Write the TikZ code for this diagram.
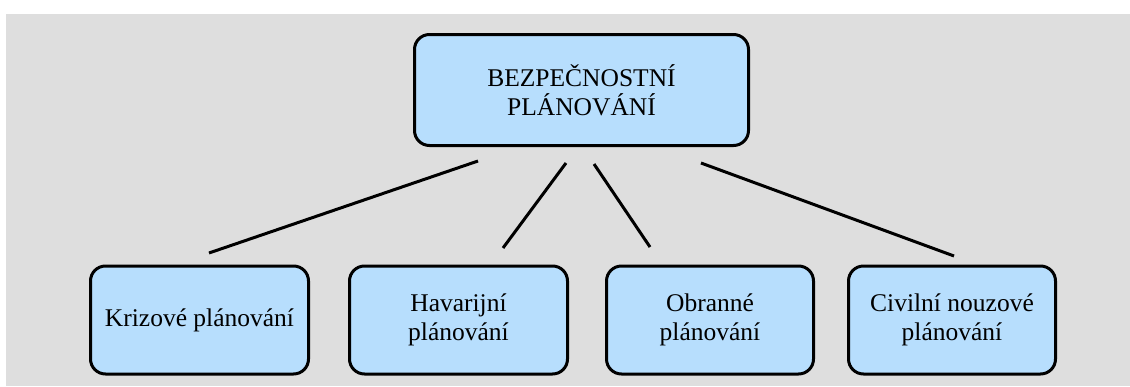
\documentclass[tikz,border=0pt]{standalone}
\usepackage{fontspec}
\setmainfont{Liberation Serif}
\usepackage{tikz}
\usetikzlibrary{positioning}
\definecolor{bgrey}{RGB}{222,222,222}
\definecolor{boxblue}{RGB}{183,222,253}
\tikzstyle{plan}=[rectangle, rounded corners=15pt, draw=black, fill=boxblue, line width=3pt, align=center, font=\fontsize{25.5}{29}\selectfont]
\tikzstyle{link}=[line width=3pt]

\begin{document}
\begin{tikzpicture}[x=1pt, y=-1pt]
          \useasboundingbox (0,0) rectangle (1130,386);
          \fill[bgrey] (6,14) rectangle (1130,386);
          \node[plan, minimum width=334pt, minimum height=111pt] (bp) at (581.5,90) {BEZPEČNOSTNÍ\\PLÁNOVÁNÍ};
          \node[plan, minimum width=218pt, minimum height=108pt] (kp) at (199.5,320) {Krizové plánování};
          \node[plan, minimum width=218pt, minimum height=108pt] (hp) [right=38pt of kp] {Havarijní\\plánování};
          \node[plan, minimum width=207pt, minimum height=108pt] (op) [right=36pt of hp] {Obranné\\plánování};
          \node[plan, minimum width=207pt, minimum height=108pt] (cp) [right=32pt of op] {Civilní nouzové\\plánování};
          % free ends of the links
          \coordinate (bp1) at (478,161);
          \coordinate (bp2) at (566,163);
          \coordinate (bp3) at (594,164);
          \coordinate (bp4) at (701,163);
          \coordinate (kp0) at (209,253);
          \coordinate (hp0) at (503,248);
          \coordinate (op0) at (650,247);
          \coordinate (cp0) at (954,256);
          \draw[link] (bp1) -- (kp0);
          \draw[link] (bp2) -- (hp0);
          \draw[link] (bp3) -- (op0);
          \draw[link] (bp4) -- (cp0);
        \end{tikzpicture}
\end{document}
